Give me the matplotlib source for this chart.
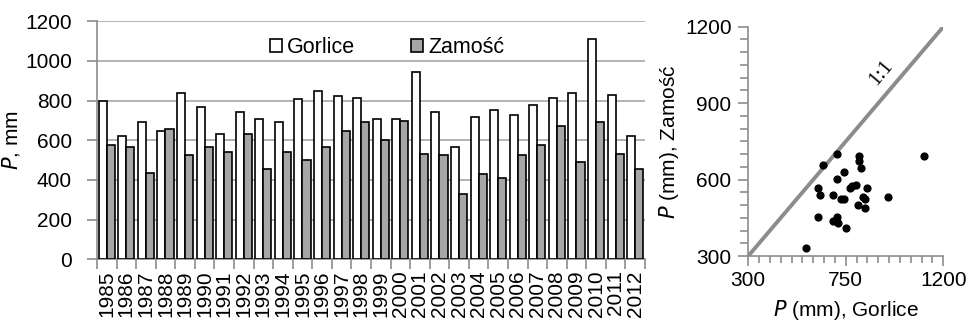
import numpy as np
import matplotlib
matplotlib.use('Agg')
import matplotlib.pyplot as plt
from matplotlib.ticker import MultipleLocator

plt.rcParams['font.family'] = ['Liberation Sans', 'DejaVu Sans']

years = list(range(1985, 2013))
gorlice = [797, 622, 691, 647, 840, 770, 630, 743, 709, 691, 807, 849, 822, 813,
           709, 709, 945, 743, 568, 716, 753, 726, 778, 813, 840, 1111, 830, 620]
zamosc = [578, 568, 437, 657, 524, 568, 541, 630, 454, 541, 499, 568, 647, 691,
          603, 699, 533, 524, 331, 429, 408, 524, 576, 674, 489, 691, 533, 454]

axis_col = '#8c8c8c'
grid_col = '#a6a6a6'

fig = plt.figure(figsize=(9.68, 3.26), dpi=100)

# bar chart
ax = fig.add_axes([0.1002, 0.2046, 0.5661, 0.7301])
x = np.arange(len(years))
w = 0.41
ax.bar(x - w / 2, gorlice, w, color='white', edgecolor='black', linewidth=1.2,
       label='Gorlice', zorder=3)
ax.bar(x + w / 2, zamosc, w, color='#a6a6a6', edgecolor='black', linewidth=1.2,
       label='Zamość', zorder=3)
ax.set_xlim(-0.5, len(years) - 0.5)
ax.set_ylim(0, 1200)
ax.set_yticks(range(0, 1201, 200))
ax.yaxis.grid(True, color=grid_col, linewidth=1.2)
ax.set_axisbelow(True)
ax.set_xticks(np.append(x - 0.5, len(years) - 0.5), minor=False)
ax.set_xticklabels([])
ax.set_xticks(x, minor=True)
ax.set_xticklabels([str(y) for y in years], minor=True, rotation=90, fontsize=15)
ax.tick_params(axis='x', which='minor', length=0, pad=8)
ax.tick_params(axis='x', which='major', length=7, color=axis_col, width=1.2)
ax.tick_params(axis='y', labelsize=15, length=7, color=axis_col, width=1.2, pad=11)
for s in ['top', 'right']:
    ax.spines[s].set_visible(False)
for s in ['left', 'bottom']:
    ax.spines[s].set_color(axis_col)
    ax.spines[s].set_linewidth(1.2)
ax.set_ylabel(r'$\mathit{P}$, mm', fontsize=15, labelpad=2)
ax.legend(loc='upper center', bbox_to_anchor=(0.53, 1.015), ncol=2, frameon=False,
          fontsize=15.5, handlelength=0.55, handleheight=0.55, handletextpad=0.25,
          columnspacing=2.6)

# scatter
ax2 = fig.add_axes([0.773, 0.2147, 0.2015, 0.7033])
ax2.plot([300, 1200], [300, 1200], color='#8c8c8c', linewidth=2.8, zorder=2)
ax2.scatter(gorlice, zamosc, s=24, color='black', zorder=3)
ax2.set_xlim(300, 1200)
ax2.set_ylim(300, 1200)
ax2.set_xticks([300, 750, 1200])
ax2.set_yticks([300, 600, 900, 1200])
ax2.xaxis.set_minor_locator(MultipleLocator(50))
ax2.yaxis.set_minor_locator(MultipleLocator(50))
ax2.tick_params(which='major', labelsize=15, length=7, color=axis_col, width=1.2)
ax2.tick_params(axis='y', which='major', pad=5)
ax2.tick_params(which='minor', length=5, color=axis_col, width=1.2)
ax2.tick_params(axis='y', which='minor', length=6)
for s in ['top', 'right']:
    ax2.spines[s].set_visible(False)
for s in ['left', 'bottom']:
    ax2.spines[s].set_color(axis_col)
    ax2.spines[s].set_linewidth(1.2)
ax2.set_xlabel(r'$\mathit{P}$ (mm), Gorlice', fontsize=15, labelpad=6)
ax2.set_ylabel(r'$\mathit{P}$ (mm), Zamość', fontsize=15, labelpad=3)
ax2.text(912, 1020, '1:1', rotation=50, fontsize=15, family='Liberation Serif',
         ha='center', va='center')

fig.savefig('out.png', dpi=100)
